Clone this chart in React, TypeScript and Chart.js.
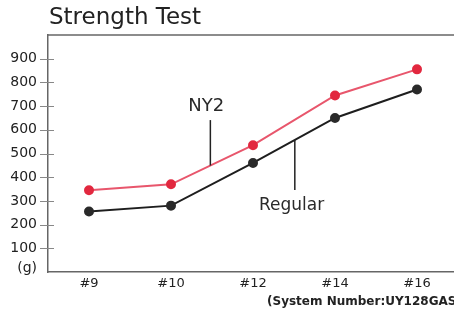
import React, { useEffect, useRef } from "react";
import { Chart, registerables } from "chart.js";

Chart.register(...registerables);

const categories = ["#9", "#10", "#12", "#14", "#16"];
const ny2Values = [345, 370, 535, 745, 855];
const regularValues = [255, 280, 460, 650, 770];
const yMin = 0;
const yMax = 1000;
const yStep = 100;
const unitLabel = "(g)";
const titleText = "Strength Test";
const footnoteText = "(System Number:UY128GAS";
const seriesNames = ["NY2", "Regular"];

const FONT = "'DejaVu Sans', 'Liberation Sans', sans-serif";

const overlayPlugin = {
  id: "overlay",
  afterDraw(chart: any) {
    const { ctx, chartArea, scales } = chart;
    const x = scales.x;
    const y = scales.y;
    ctx.save();
    // top border
    ctx.strokeStyle = "#666";
    ctx.lineWidth = 1.5;
    ctx.beginPath();
    ctx.moveTo(chartArea.left, chartArea.top);
    ctx.lineTo(chartArea.right, chartArea.top);
    ctx.stroke();
    // tick marks crossing the y axis
    ctx.strokeStyle = "#888";
    ctx.lineWidth = 1;
    y.ticks.forEach((t: any) => {
      if (t.value <= yMin || t.value >= yMax) return;
      const py = Math.round(y.getPixelForValue(t.value)) + 0.5;
      ctx.beginPath();
      ctx.moveTo(chartArea.left - 8, py);
      ctx.lineTo(chartArea.left + 6, py);
      ctx.stroke();
    });
    // unit label
    ctx.fillStyle = "#222";
    ctx.font = `14px ${FONT}`;
    ctx.textAlign = "right";
    ctx.textBaseline = "middle";
    ctx.fillText(unitLabel, chartArea.left - 11, y.getPixelForValue(yMin) - 4);
    // title
    ctx.fillStyle = "#222";
    ctx.font = `23px ${FONT}`;
    ctx.textAlign = "left";
    ctx.fillText(titleText, 49, 18);

    // annotations
    const interp = (vals: number[], idx: number) => {
      const i = Math.floor(idx);
      const f = idx - i;
      return vals[i] + f * (vals[i + 1] - vals[i]);
    };
    ctx.strokeStyle = "#222";
    ctx.lineWidth = 1.5;
    // NY2
    ctx.font = `18px ${FONT}`;
    ctx.textAlign = "center";
    ctx.fillStyle = "#2a2a2a";
    ctx.fillText(seriesNames[0], x.getPixelForValue(1.43), y.getPixelForValue(700));
    let lx = x.getPixelForValue(1.48);
    ctx.beginPath();
    ctx.moveTo(lx, y.getPixelForValue(641));
    ctx.lineTo(lx, y.getPixelForValue(interp(ny2Values, 1.48)));
    ctx.stroke();
    // Regular
    ctx.font = `17px ${FONT}`;
    ctx.fillText(seriesNames[1], x.getPixelForValue(2.47), y.getPixelForValue(280));
    lx = x.getPixelForValue(2.51);
    ctx.beginPath();
    ctx.moveTo(lx, y.getPixelForValue(interp(regularValues, 2.51)));
    ctx.lineTo(lx, y.getPixelForValue(346));
    ctx.stroke();

    // footnote
    ctx.font = `bold 12px ${FONT}`;
    ctx.textAlign = "left";
    ctx.fillStyle = "#222";
    ctx.fillText(footnoteText, 267, 302);
    ctx.restore();
  },
};

export default function App() {
  const ref = useRef<HTMLCanvasElement | null>(null);
  useEffect(() => {
    if (!ref.current) return;
    const chart = new Chart(ref.current, {
      type: "line",
      data: {
        labels: categories,
        datasets: [
          {
            label: seriesNames[0],
            data: ny2Values,
            borderColor: "#e8566c",
            backgroundColor: "#e2283f",
            pointBackgroundColor: "#e2283f",
            pointBorderColor: "#e2283f",
            borderWidth: 2,
            pointRadius: 4,
            tension: 0,
          },
          {
            label: seriesNames[1],
            data: regularValues,
            borderColor: "#1e1e1e",
            backgroundColor: "#2a2a2a",
            pointBackgroundColor: "#2a2a2a",
            pointBorderColor: "#2a2a2a",
            borderWidth: 2,
            pointRadius: 4,
            tension: 0,
          },
        ],
      },
      options: {
        responsive: false,
        animation: false,
        layout: { padding: { top: 35, right: 12, left: 0, bottom: 0 } },
        plugins: {
          legend: { display: false },
          title: { display: false },
          tooltip: { enabled: false },
        },
        scales: {
          x: {
            offset: true,
            grid: { display: false, drawTicks: false },
            border: { display: true, color: "#666", width: 1.5 },
            ticks: {
              padding: 4,
              color: "#222",
              font: { family: FONT, size: 13 },
              maxRotation: 0,
            },
            afterFit(scale: any) {
              scale.height = 40;
            },
          },
          y: {
            min: yMin,
            max: yMax,
            grid: { display: false, drawTicks: false },
            border: { display: true, color: "#666", width: 1.5 },
            ticks: {
              stepSize: yStep,
              padding: 11,
              color: "#222",
              font: { family: FONT, size: 14 },
              callback: (v: any) =>
                v === yMin || v === yMax ? "" : String(v),
            },
            afterFit(scale: any) {
              scale.width = 48;
            },
          },
        },
      },
      plugins: [overlayPlugin],
    });
    return () => chart.destroy();
  }, []);
  return (
    <div
      style={{
        position: "fixed",
        left: 0,
        top: 0,
        width: 454,
        height: 312,
        overflow: "hidden",
        background: "#fff",
      }}
    >
      <canvas ref={ref} width={470} height={312} style={{ display: "block" }} />
    </div>
  );
}
